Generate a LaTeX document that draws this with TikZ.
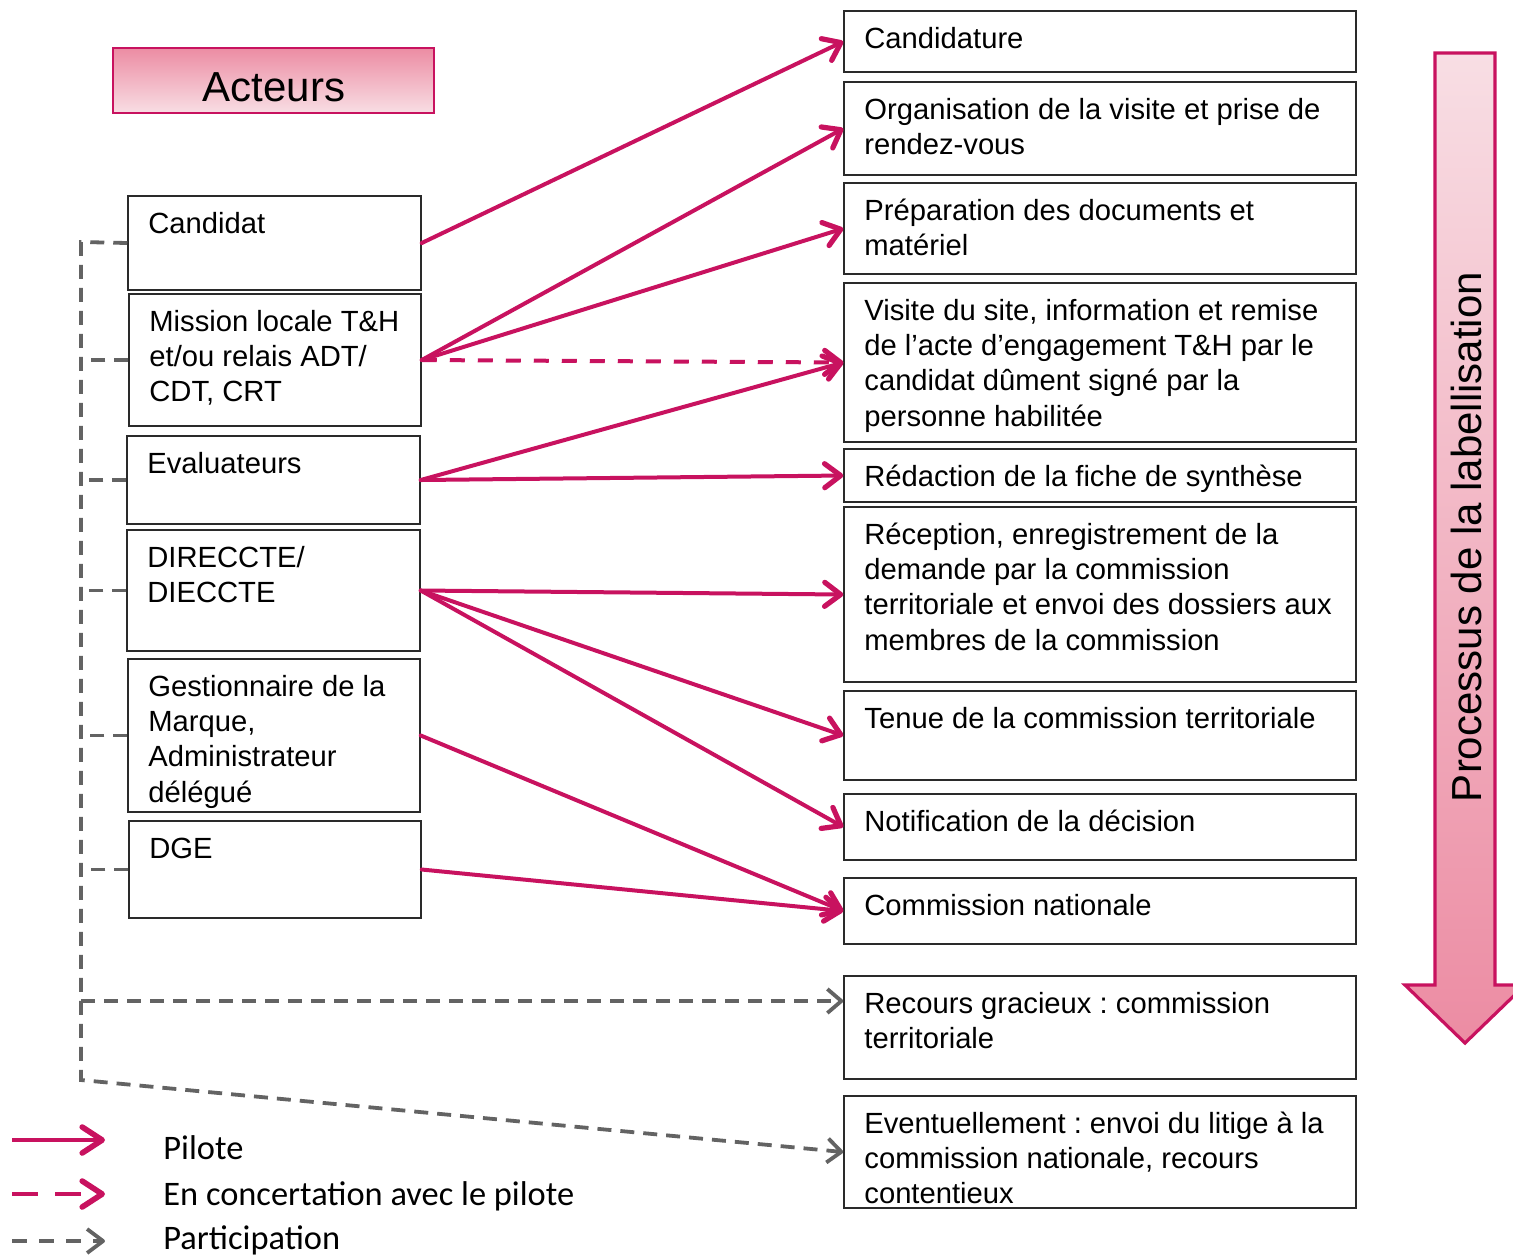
\documentclass[tikz,border=0pt]{standalone}
\usepackage{fontspec}
\setmainfont{Liberation Sans}
\newfontfamily\legfont{Carlito}
\usetikzlibrary{arrows.meta,fit}
\definecolor{crim}{HTML}{C8125F}
\definecolor{gr}{HTML}{636363}
\definecolor{bd}{HTML}{2A2A2A}
\definecolor{pinklight}{HTML}{F8DEE4}
\definecolor{pinkdark}{HTML}{EC8CA3}
\frenchspacing
\newcommand\mybox[6]{%
  \node[boxst, fit={(#2,#3) (#4,#5)}] (#1) {};
  \node[txt, anchor=north west] (#1-t) at (#2+20,#3+9) {\rule{0pt}{14pt}#6};
}
\begin{document}
\begin{tikzpicture}[x=0.5pt,y=-0.5pt,
  boxst/.style={draw=bd, line width=0.75pt, inner sep=0pt, fill=white},
  txt/.style={inner sep=0pt, align=left, font=\fontsize{14.6pt}{17.6pt}\selectfont},
  pil/.style={draw=crim, line width=2pt, line cap=round, -{Straight Barb[length=8pt,width=12pt,line width=2.6pt,line cap=round,line join=round]}},
  conc/.style={pil, line cap=butt, dash pattern=on 7.5pt off 6.5pt},
  part/.style={draw=gr, line width=1.9pt, dash pattern=on 7pt off 4.5pt},
  parta/.style={part, -{Straight Barb[length=7pt,width=12pt,line width=1.9pt,line join=round]}},
  leg/.style={inner sep=0pt, font=\legfont\fontsize{17.2pt}{20pt}\selectfont},
]
\useasboundingbox (0,0) rectangle (1513,1255);

% Acteurs title
\node[draw=crim, line width=0.6pt, top color=pinkdark, bottom color=pinklight,
      inner sep=0pt, fit={(113,48) (434,113)}] (act) {};
\node[inner sep=0pt, anchor=base, font=\fontsize{21pt}{25pt}\selectfont] (act-t) at (274,101) {Acteurs};

% process arrow
\draw[draw=crim, line width=1.6pt, top color=pinklight, bottom color=pinkdark]
  (1435,53) -- (1495,53) -- (1495,985) -- (1525,985) -- (1465,1043) -- (1405,985) -- (1435,985) -- cycle;
\node[rotate=90, inner sep=0pt, font=\fontsize{21pt}{25pt}\selectfont] (proc) at (1466,537) {Processus de la labellisation};

% actors
\mybox{cand}{128}{196}{421}{290}{Candidat}
\mybox{miss}{129}{294}{421}{426}{Mission locale T\&H\\et/ou relais ADT/\\CDT, CRT}
\mybox{eval}{127}{436}{420}{524}{Evaluateurs}
\mybox{dir}{127}{530}{420}{651}{DIRECCTE/\\DIECCTE}
\mybox{gest}{128}{659}{420}{812}{Gestionnaire de la\\Marque,\\Administrateur\\délégué}
\mybox{dge}{129}{821}{421}{918}{DGE}

% steps
\mybox{r1}{844}{11}{1356}{72}{Candidature}
\mybox{r2}{844}{82}{1356}{175}{Organisation de la visite et prise de\\rendez-vous}
\mybox{r3}{844}{183}{1356}{274}{Préparation des documents et\\matériel}
\mybox{r4}{844}{283}{1356}{442}{Visite du site, information et remise\\de l’acte d’engagement T\&H par le\\candidat dûment signé par la\\personne habilitée}
\mybox{r5}{844}{449}{1356}{502}{Rédaction de la fiche de synthèse}
\mybox{r6}{844}{507}{1356}{682}{Réception, enregistrement de la\\demande par la commission\\territoriale et envoi des dossiers aux\\membres de la commission}
\mybox{r7}{844}{691}{1356}{780}{Tenue de la commission territoriale}
\mybox{r8}{844}{794}{1356}{860}{Notification de la décision}
\mybox{r9}{844}{878}{1356}{944}{Commission nationale}
\mybox{r10}{844}{976}{1356}{1079}{Recours gracieux : commission\\territoriale}
\mybox{r11}{844}{1096}{1356}{1208}{Eventuellement : envoi du litige à la\\commission nationale, recours\\contentieux}

% pilot connectors
\draw[pil] (cand.east) -- (r1.west);
\draw[pil] (miss.east) -- (r2.west);
\draw[pil] (miss.east) -- (r3.west);
\draw[conc] (miss.east) -- (r4.west);
\draw[pil] (eval.east) -- (r4.west);
\draw[pil] (eval.east) -- (r5.west);
\draw[pil] (dir.east) -- (r6.west);
\draw[pil] (dir.east) -- (r7.west);
\draw[pil] (dir.east) -- (r8.west);
\draw[pil] (gest.east) -- (r9.west);
\draw[pil] (dge.east) -- (r9.west);

% participation
\coordinate (vl) at (81,242);
\coordinate (vb) at (81,1080);
\coordinate (vr) at (81,1001);
\draw[parta] (cand.west) -- (vl) -- (vb) -- (r11.west);
\draw[part] (miss.west) -- (miss.west -| vl);
\draw[part] (eval.west) -- (eval.west -| vl);
\draw[part] (dir.west) -- (dir.west -| vl);
\draw[part] (gest.west) -- (gest.west -| vl);
\draw[part] (dge.west) -- (dge.west -| vl);
\draw[parta] (vr) -- (vr -| r10.west);

% legend
\coordinate (l1a) at (12,1140); \coordinate (l1b) at (105,1140);
\coordinate (l2a) at (12,1194); \coordinate (l2b) at (105,1194);
\coordinate (l3a) at (12,1241); \coordinate (l3b) at (105,1241);
\draw[pil, line cap=butt, -{Straight Barb[length=10pt,width=13pt,line width=2.8pt,line cap=round,line join=round]}] (l1a) -- (l1b);
\draw[pil, line cap=butt, dash pattern=on 13pt off 8.5pt, -{Straight Barb[length=10pt,width=13pt,line width=2.8pt,line cap=round,line join=round]}] (l2a) -- (l2b);
\draw[part, dash pattern=on 7.5pt off 6pt, -{Straight Barb[length=8pt,width=12pt,line width=1.9pt,line join=round]}] (l3a) -- (l3b);
\node[leg, anchor=base west] (lt1) at (163,1159) {Pilote};
\node[leg, anchor=base west] (lt2) at (163,1205) {En concertation avec le pilote};
\node[leg, anchor=base west] (lt3) at (163,1249) {Participation};
\end{tikzpicture}
\end{document}
